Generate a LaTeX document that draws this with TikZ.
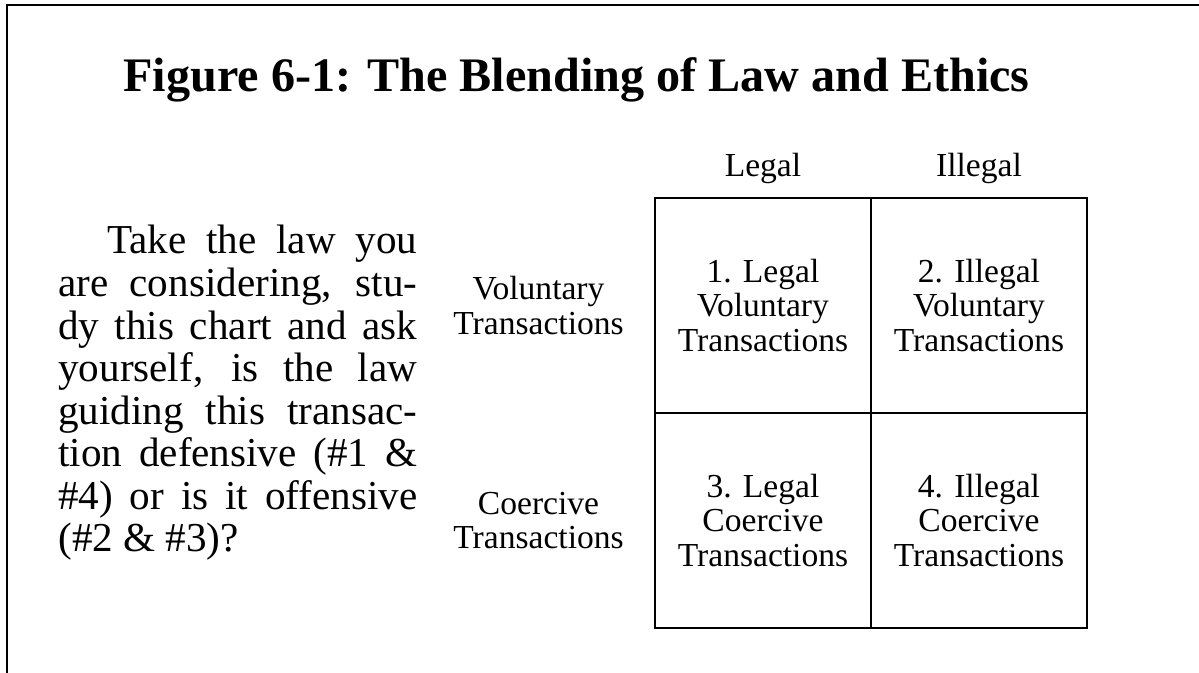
\documentclass[tikz,border=0pt]{standalone}
\usepackage{fontspec}
\setmainfont{Liberation Serif}
\usetikzlibrary{positioning}

\newcommand{\titlefont}{\fontsize{27.4}{30}\selectfont\bfseries}
\newcommand{\cellfont}{\fontsize{19.1}{19.5}\selectfont}
\newcommand{\advicefont}{\fontsize{23.4}{24.2}\selectfont}

\tikzstyle{cell} = [rectangle, minimum width=4.32cm, minimum height=4.30cm, inner sep=0pt, align=center, draw=black, line width=1.1pt, font=\cellfont]
\tikzstyle{axis} = [inner sep=0pt, align=center, font=\cellfont]
\tikzstyle{frame} = [line width=1.1pt]

\begin{document}
\begin{tikzpicture}[node distance=4.32cm]
  \useasboundingbox (0,0) rectangle (23.98,13.46);
  \draw [frame] (0.14,0) -- (0.14,13.36) -- (23.98,13.36);

  \node (Title) [anchor=base, font=\titlefont] at (11.53,11.62) {Figure 6-1: The Blending of Law and Ethics};
  \node (Advice) [anchor=base west, inner sep=0pt] at (1.16,8.38) {\parbox[t]{7.18cm}{\advicefont\tolerance=9999\hyphenpenalty=10000\hspace*{0.98cm}Take the law you\linebreak are considering, stu-\linebreak dy this chart and ask\linebreak yourself, is the law\linebreak guiding this transac-\linebreak tion defensive (\#1 \&\linebreak \#4) or is it offensive\linebreak (\#2 \& \#3)?}};

  \node (Legal Voluntary) [cell] at (15.26,7.35) {1. Legal\\Voluntary\\Transactions};
  \node (Illegal Voluntary) [cell, on grid, right=of Legal Voluntary] {2. Illegal\\Voluntary\\Transactions};
  \node (Legal Coercive) [cell, on grid, below=4.30cm of Legal Voluntary] {3. Legal\\Coercive\\Transactions};
  \node (Illegal Coercive) [cell, on grid, right=of Legal Coercive] {4. Illegal\\Coercive\\Transactions};

  \node (Legal) [axis, above=0.25cm of Legal Voluntary] {Legal};
  \node (Illegal) [axis, above=0.25cm of Illegal Voluntary] {Illegal};
  \node (Voluntary) [axis, left=0.6cm of Legal Voluntary] {Voluntary\\Transactions};
  \node (Coercive) [axis, left=0.6cm of Legal Coercive] {Coercive\\Transactions};
\end{tikzpicture}
\end{document}
